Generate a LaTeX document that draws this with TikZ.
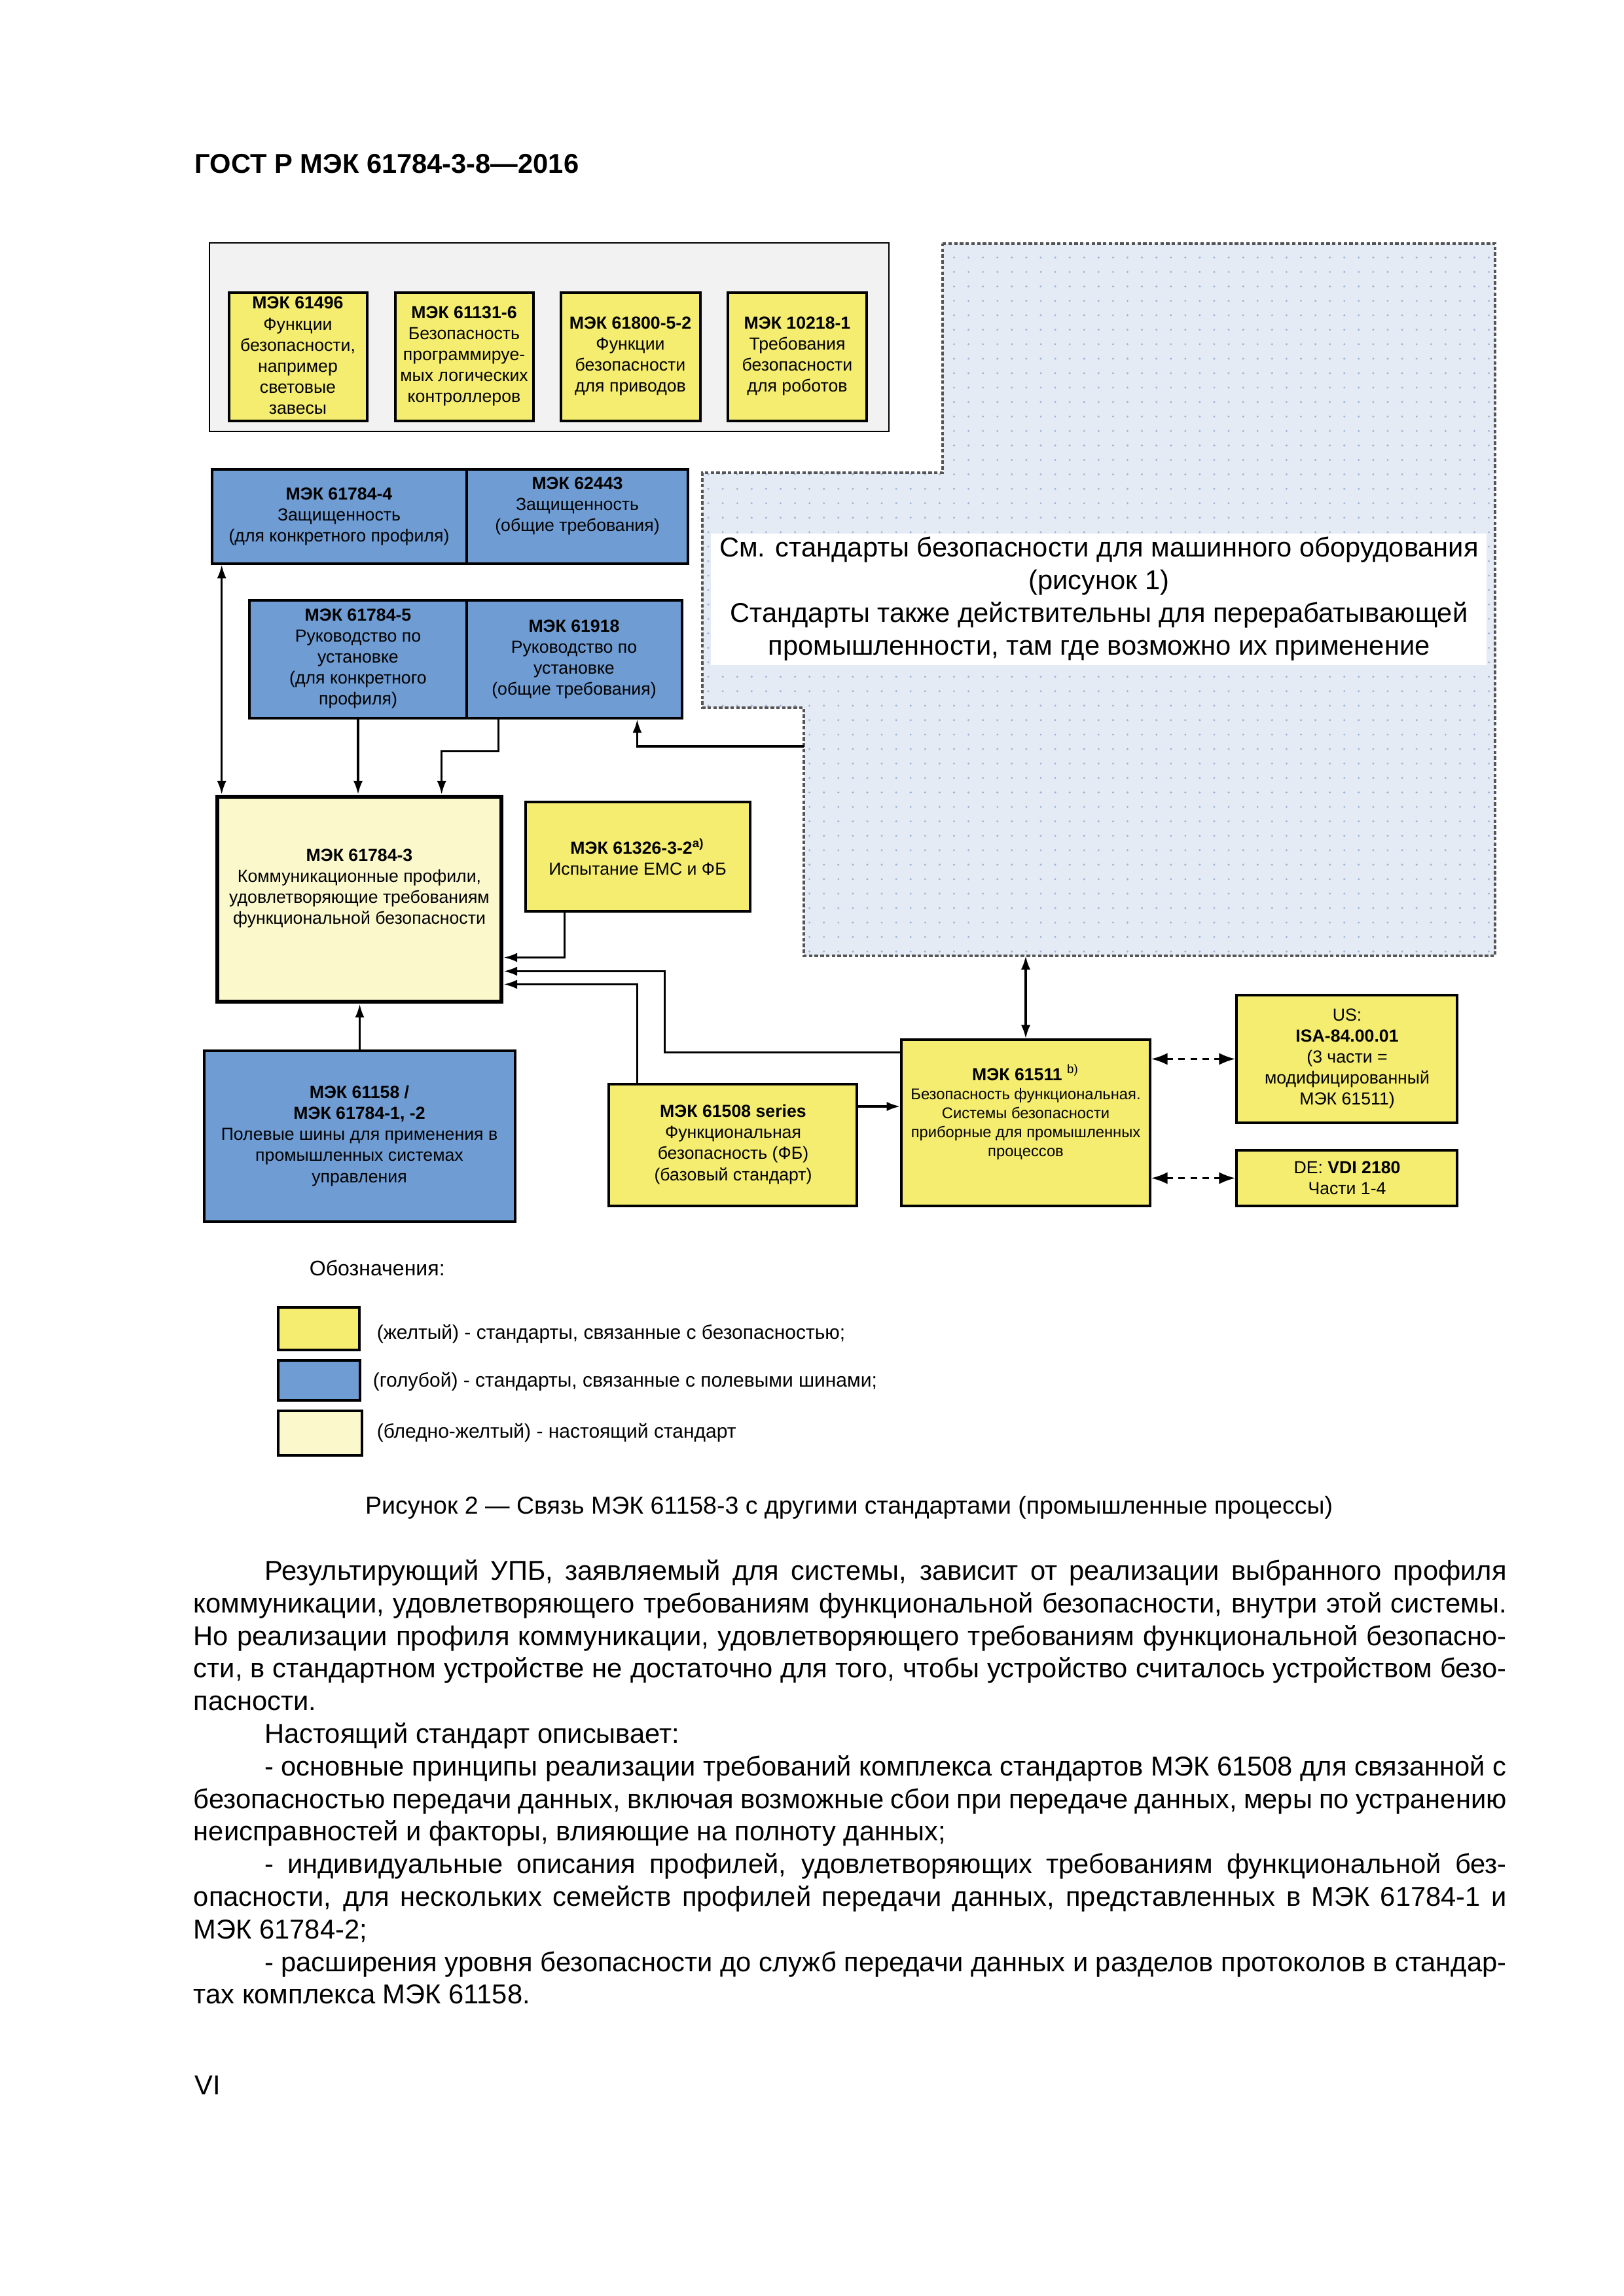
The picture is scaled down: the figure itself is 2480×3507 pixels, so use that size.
\documentclass[tikz,border=0pt]{standalone}
\usepackage{fontspec}
\setmainfont{Liberation Sans}
\usetikzlibrary{arrows.meta,calc,fit,patterns.meta}

\definecolor{stdyellow}{RGB}{245,237,112}
\definecolor{stdblue}{RGB}{110,156,211}
\definecolor{paleyellow}{RGB}{251,248,204}
\definecolor{groupgray}{RGB}{242,242,242}
\definecolor{machblue}{RGB}{228,235,245}
\definecolor{dotblue}{RGB}{160,180,212}
\definecolor{machedge}{RGB}{85,85,85}

\tikzset{
  stdbox/.style={draw, line width=0.75pt, inner sep=0pt},
  yellowstd/.style={stdbox, fill=stdyellow},
  bluestd/.style={stdbox, fill=stdblue},
  boxtxt/.style={align=center, inner sep=0pt, font=\fontsize{6.4}{7.7}\selectfont},
  link/.style={line width=0.8pt, -{Latex[length=5pt,width=3.4pt]}},
  dlink/.style={line width=0.8pt, {Latex[length=5pt,width=3.4pt]}-{Latex[length=5pt,width=3.4pt]}},
  dashlink/.style={line width=0.8pt, dash pattern=on 2.4pt off 2pt,
    {Latex[length=6pt,width=4.4pt]}-{Latex[length=6pt,width=4.4pt]}},
  bodytxt/.style={inner sep=0pt, anchor=base west, font=\fontsize{10}{12}\selectfont},
  legendtxt/.style={inner sep=0pt, anchor=west, font=\fontsize{7.2}{8.6}\selectfont},
}

% one justified / one ragged line of the running text
\newcommand{\justline}[4]{\node[bodytxt] (#1) at (295,#2) {\makebox[481.4pt][s]{\hspace*{#3}#4}};}
\newcommand{\plainline}[4]{\node[bodytxt] (#1) at (295,#2) {\hspace*{#3}#4};}

\begin{document}
\begin{tikzpicture}[x=0.24pt,y=-0.24pt]

\fill[white] (0,0) rectangle (2480,3507);

\node[inner sep=0pt, anchor=base west, font=\fontsize{10}{12}\selectfont\bfseries] (doccode) at (297,265) {ГОСТ Р МЭК 61784-3-8—2016};

% machinery area (dotted)
\path[preaction={fill=machblue}, pattern={Dots[distance=5.3pt,radius=0.4pt]}, pattern color=dotblue,
  draw=machedge, line width=0.9pt, dash pattern=on 1.3pt off 0.8pt]
  (1440,372) -- (2284,372) -- (2284,1460) -- (1228,1460) -- (1228,1081)
  -- (1073,1081) -- (1073,722) -- (1440,722) -- cycle;
\coordinate (machs) at (1567,1460);
\coordinate (machw) at (1228,1140);
\node[fill=white, inner sep=0pt, fit={(1086,815) (2271,1016)}] (machnoteback) {};
\node[inner sep=0pt, align=center, font=\fontsize{10}{12}\selectfont] (machnote) at (1679,915)
  {См. стандарты безопасности для машинного оборудования\\(рисунок 1)\\Стандарты также действительны для перерабатывающей\\промышленности, там где возможно их применение};

% machinery safety standards
\node[draw, line width=0.6pt, fill=groupgray, inner sep=0pt, fit={(320,371) (1358,659)}] (machgroup) {};
\node[yellowstd, fit={(350,447) (561,643)}] (iec61496) {};
\node[yellowstd, fit={(604,447) (815,643)}] (iec61131) {};
\node[yellowstd, fit={(857,447) (1070,643)}] (iec61800) {};
\node[yellowstd, fit={(1112,447) (1324,643)}] (iec10218) {};
\node[boxtxt] at (455,543) {\textbf{МЭК 61496}\\Функции\\безопасности,\\например\\световые\\завесы};
\node[boxtxt] at (709,544) {\textbf{МЭК 61131-6}\\Безопасность\\программируе-\\мых логических\\контроллеров};
\node[boxtxt] at (963,544) {\textbf{МЭК 61800-5-2}\\Функции\\безопасности\\для приводов};
\node[boxtxt] at (1218,544) {\textbf{МЭК 10218-1}\\Требования\\безопасности\\для роботов};

% security and installation
\node[bluestd, fit={(324,717) (713,861)}] (sec4) {};
\node[bluestd, fit={(713,717) (1051,861)}] (sec62443) {};
\node[boxtxt] at (518,789) {\textbf{МЭК 61784-4}\\Защищенность\\(для конкретного профиля)};
\node[boxtxt] at (882,773) {\textbf{МЭК 62443}\\Защищенность\\(общие требования)};

\node[bluestd, fit={(381,917) (713,1097)}] (inst5) {};
\node[bluestd, fit={(713,917) (1042,1097)}] (inst61918) {};
\node[boxtxt] at (547,1006) {\textbf{МЭК 61784-5}\\Руководство по\\установке\\(для конкретного\\профиля)};
\node[boxtxt] at (877,1007) {\textbf{МЭК 61918}\\Руководство по\\установке\\(общие требования)};

% this standard
\node[draw, line width=1.6pt, fill=paleyellow, inner sep=0pt, fit={(332,1217) (766,1530)}] (prof3) {};
\node[boxtxt] at (549,1357) {\textbf{МЭК 61784-3}\\Коммуникационные профили,\\удовлетворяющие требованиям\\функциональной безопасности};

\node[yellowstd, fit={(803,1225) (1146,1392)}] (emc) {};
\node[boxtxt] at (974,1309) {\textbf{МЭК 61326-3-2\textsuperscript{a)}}\\Испытание ЕМС и ФБ};

\node[bluestd, fit={(312,1605) (787,1866)}] (fieldbus) {};
\node[boxtxt] at (549,1735) {\textbf{МЭК 61158 /}\\\textbf{МЭК 61784-1, -2}\\Полевые шины для применения в\\промышленных системах\\управления};

\node[yellowstd, fit={(930,1656) (1309,1842)}] (fs61508) {};
\node[boxtxt] at (1120,1748) {\textbf{МЭК 61508 series}\\Функциональная\\безопасность (ФБ)\\(базовый стандарт)};

\node[yellowstd, fit={(1377,1588) (1757,1842)}] (sis61511) {};
\node[boxtxt, font=\fontsize{5.7}{7}\selectfont] at (1567,1699)
  {{\fontsize{6.4}{7.7}\selectfont\textbf{МЭК 61511} \textsuperscript{b)}}\\Безопасность функциональная.\\Системы безопасности\\приборные для промышленных\\процессов};

\node[yellowstd, fit={(1889,1520) (2226,1715)}] (isa) {};
\node[boxtxt] at (2058,1617) {US:\\\textbf{ISA-84.00.01}\\(3 части =\\модифицированный\\МЭК 61511)};
\node[yellowstd, fit={(1889,1757) (2226,1842)}] (vdi) {};
\node[boxtxt] at (2058,1799) {DE: \textbf{VDI 2180}\\Части 1-4};

% connectors
\path ($(prof3.north west)+(10,0)$) coordinate (p1);
\draw[dlink] (p1) -- (p1 |- sec4.south);
\draw[link] (inst5.south) -- (inst5.south |- prof3.north);
\draw[link] ($(inst61918.south west)+(50,0)$) -- ++(0,49) -| ($(prof3.north west)+(346,0)$);
\draw[link] (machw) -| ($(inst61918.south west)+(262,0)$);
\draw[link] ($(emc.south west)+(61,0)$) |- ($(prof3.east)+(0,89)$);
\draw[link] ($(sis61511.north west)+(0,21)$) -- ++(-360,0) |- ($(prof3.east)+(0,110)$);
\draw[link] ($(fs61508.north west)+(45,0)$) |- ($(prof3.east)+(0,130)$);
\draw[link] (fieldbus.north) -- (fieldbus.north |- prof3.south);
\path ($(fs61508.east)+(0,-59)$) coordinate (p5);
\draw[link] (p5) -- (p5 -| sis61511.west);
\draw[dlink] (sis61511.north) -- (sis61511.north |- machs);
\draw[dashlink] (sis61511.east |- isa.west) -- (isa.west);
\draw[dashlink] (sis61511.east |- vdi.west) -- (vdi.west);

% legend
\node[inner sep=0pt, anchor=west, font=\fontsize{7.7}{9}\selectfont] (keytitle) at (472,1937) {Обозначения:};
\node[stdbox, fill=stdyellow, fit={(425,1997) (549,2062)}] (keyyellow) {};
\node[stdbox, fill=stdblue, fit={(425,2078) (550,2139)}] (keyblue) {};
\node[stdbox, fill=paleyellow, fit={(425,2155) (553,2223)}] (keypale) {};
\node[legendtxt] (keyyellowtxt) at (575,2037) {(желтый) - стандарты, связанные с безопасностью;};
\node[legendtxt] (keybluetxt) at (569,2110) {(голубой) - стандарты, связанные с полевыми шинами;};
\node[legendtxt] (keypaletxt) at (575,2188) {(бледно-желтый) - настоящий стандарт};

\node[inner sep=0pt, anchor=base, font=\fontsize{9}{10}\selectfont] (caption) at (1297,2312)
  {Рисунок 2 — Связь МЭК 61158-3 с другими стандартами (промышленные процессы)};

% running text
\justline{l1}{2413}{26pt}{Результирующий УПБ, заявляемый для системы, зависит от реализации выбранного профиля}
\justline{l2}{2463}{0pt}{коммуникации, удовлетворяющего требованиям функциональной безопасности, внутри этой системы.}
\justline{l3}{2513}{0pt}{Но реализации профиля коммуникации, удовлетворяющего требованиям функциональной безопасно-}
\justline{l4}{2562}{0pt}{сти, в стандартном устройстве не достаточно для того, чтобы устройство считалось устройством безо-}
\plainline{l5}{2612}{0pt}{пасности.}
\plainline{l6}{2662}{26pt}{Настоящий стандарт описывает:}
\justline{l7}{2712}{26pt}{- основные принципы реализации требований комплекса стандартов МЭК 61508 для связанной с}
\justline{l8}{2762}{0pt}{безопасностью передачи данных, включая возможные сбои при передаче данных, меры по устранению}
\plainline{l9}{2811}{0pt}{неисправностей и факторы, влияющие на полноту данных;}
\justline{l10}{2861}{26pt}{- индивидуальные описания профилей, удовлетворяющих требованиям функциональной без-}
\justline{l11}{2911}{0pt}{опасности, для нескольких семейств профилей передачи данных, представленных в МЭК 61784-1 и}
\plainline{l12}{2961}{0pt}{МЭК 61784-2;}
\justline{l13}{3011}{26pt}{- расширения уровня безопасности до служб передачи данных и разделов протоколов в стандар-}
\plainline{l14}{3060}{0pt}{тах комплекса МЭК 61158.}

\node[inner sep=0pt, anchor=base west, font=\fontsize{10}{12}\selectfont] (pageno) at (297,3199) {VI};

\end{tikzpicture}
\end{document}
